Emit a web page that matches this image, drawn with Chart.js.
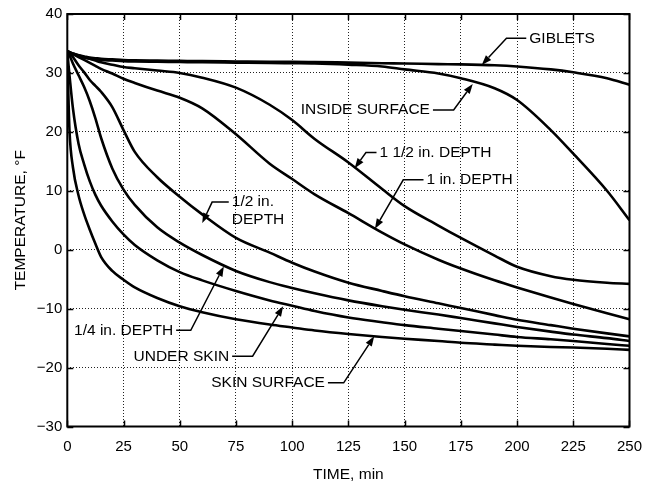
<!DOCTYPE html>
<html><head><meta charset="utf-8">
<script src="https://cdn.jsdelivr.net/npm/chart.js@4/dist/chart.umd.min.js"></script>
<style>html,body{margin:0;padding:0;background:#fff;}</style>
</head><body>
<canvas id="c" width="653" height="484"></canvas>
<script>
// ---- data ----
const times        = [0, 0.5, 1, 2.5, 5, 7.5, 10, 12.5, 15, 20, 25, 30, 40, 50, 60, 75, 90, 100, 110, 125, 140, 150, 165, 175, 190, 200, 215, 225, 240, 250];
const giblets      = [33.7, 33.6, 33.5, 33.3, 33.0, 32.8, 32.6, 32.5, 32.4, 32.3, 32.2, 32.15, 32.1, 32.05, 32.0, 31.95, 31.9, 31.9, 31.85, 31.75, 31.65, 31.6, 31.5, 31.45, 31.3, 31.1, 30.6, 30.1, 29.1, 28.0];
const insideSurf   = [33.7, 33.6, 33.5, 33.2, 32.9, 32.6, 32.4, 32.3, 32.2, 32.1, 32.0, 31.95, 31.9, 31.85, 31.8, 31.75, 31.7, 31.65, 31.6, 31.4, 31.1, 30.6, 29.9, 29.1, 27.4, 25.4, 20.3, 16.3, 10.0, 5.0];
const oneHalfIn    = [33.7, 33.6, 33.5, 33.3, 33.0, 32.7, 32.4, 32.1, 31.8, 31.4, 31.0, 30.8, 30.4, 30.0, 29.2, 27.5, 24.6, 22.0, 18.8, 14.8, 10.3, 7.4, 4.1, 2.0, -1.0, -2.9, -4.5, -5.1, -5.6, -5.8];
const oneIn        = [33.7, 33.6, 33.5, 33.2, 32.7, 32.2, 31.7, 31.2, 30.7, 29.9, 29.0, 28.3, 27.0, 25.8, 24.0, 19.6, 14.6, 12.0, 9.4, 6.2, 2.9, 0.9, -1.7, -3.2, -5.2, -6.4, -8.1, -9.2, -10.8, -11.8];
const halfIn       = [33.7, 33.6, 33.4, 32.7, 31.3, 30.1, 28.8, 27.8, 26.8, 24.2, 20.3, 16.6, 12.3, 9.0, 6.0, 2.0, -0.5, -2.2, -3.7, -5.6, -7.0, -7.9, -9.1, -9.9, -11.1, -11.9, -12.8, -13.4, -14.2, -14.7];
const quarterIn    = [33.7, 33.4, 33.0, 31.6, 29.6, 27.6, 25.2, 22.3, 19.0, 13.8, 10.2, 7.6, 3.8, 1.2, -0.9, -3.6, -5.5, -6.5, -7.4, -8.6, -9.6, -10.2, -11.0, -11.6, -12.5, -13.1, -13.9, -14.4, -15.0, -15.5];
const underSkin    = [33.7, 31.5, 29.5, 24.0, 18.0, 14.5, 11.6, 9.3, 7.5, 4.8, 2.6, 0.8, -1.8, -3.8, -5.2, -7.0, -8.6, -9.5, -10.4, -11.5, -12.3, -12.8, -13.4, -13.8, -14.4, -14.8, -15.2, -15.5, -16.0, -16.3];
const skinSurface  = [33.7, 26.0, 20.0, 14.0, 9.2, 6.0, 3.4, 1.0, -1.2, -3.6, -5.1, -6.4, -8.2, -9.6, -10.6, -11.8, -12.7, -13.2, -13.7, -14.3, -14.8, -15.1, -15.5, -15.8, -16.1, -16.3, -16.5, -16.6, -16.8, -17.0];
const xTickValues  = [0, 25, 50, 75, 100, 125, 150, 175, 200, 225, 250];
const yTickValues  = [-30, -20, -10, 0, 10, 20, 30, 40];
const xTitle = 'TIME, min';
const yTitle = 'TEMPERATURE, °F';

// ---- callout layout (data units) ----
const callouts = [
  {lines:['GIBLETS'],          tip:[184.3, 31.36], elbow:[195.3, 35.88], end:204.1, side:'right'},
  {lines:['INSIDE SURFACE'],   tip:[180.3, 28.14], elbow:[171.8, 23.73], end:162.6, side:'left'},
  {lines:['1 1/2 in. DEPTH'],  tip:[127.8, 13.81], elbow:[132.8, 16.49], end:137.5, side:'right'},
  {lines:['1 in. DEPTH'],      tip:[136.8, 3.56],  elbow:[149.4, 11.86], end:158.4, side:'right'},
  {lines:['1/2 in.', 'DEPTH'], tip:[60.0, 4.53],   elbow:[64.4, 8.08],   end:71.8,  side:'right'},
  {lines:['1/4 in. DEPTH'],    tip:[69.6, -2.83],  elbow:[54.9, -13.68], end:48.4,  side:'left'},
  {lines:['UNDER SKIN'],       tip:[96.0, -9.61],  elbow:[82.4, -18.08], end:73.3,  side:'left'},
  {lines:['SKIN SURFACE'],     tip:[136.5, -14.69],elbow:[122.9, -22.59],end:115.9, side:'left'}
];

const FAMILY = "'Liberation Sans', Arial, sans-serif";
const FONT = "15.5px " + FAMILY;
const series = [giblets, insideSurf, oneHalfIn, oneIn, halfIn, quarterIn, underSkin, skinSurface];
const datasets = series.map(vals => ({
  data: times.map((t, i) => ({x: t, y: vals[i]})),
  borderColor: '#000', borderWidth: 2.6, pointRadius: 0, fill: false,
  cubicInterpolationMode: 'monotone'
}));

const framePlugin = {
  id: 'frame',
  afterDraw(chart) {
    const {ctx, chartArea: a, scales: {x, y}} = chart;
    ctx.save();
    ctx.strokeStyle = '#000';
    ctx.lineWidth = 1.5;
    const L = 6;
    ctx.beginPath();
    xTickValues.forEach(v => {
      const px = Math.round(x.getPixelForValue(v)) + 0.5;
      ctx.moveTo(px, a.bottom); ctx.lineTo(px, a.bottom - L);
      ctx.moveTo(px, a.top); ctx.lineTo(px, a.top + L);
    });
    yTickValues.forEach(v => {
      const py = Math.round(y.getPixelForValue(v)) + 0.5;
      ctx.moveTo(a.left, py); ctx.lineTo(a.left + L, py);
      ctx.moveTo(a.right, py); ctx.lineTo(a.right - L, py);
    });
    ctx.stroke();
    ctx.lineWidth = 2;
    ctx.strokeRect(a.left, a.top, a.right - a.left, a.bottom - a.top);
    ctx.font = FONT;
    ctx.fillStyle = '#000';
    ctx.textBaseline = 'middle';
    callouts.forEach(c => {
      const tx = x.getPixelForValue(c.tip[0]), ty = y.getPixelForValue(c.tip[1]);
      const ex = x.getPixelForValue(c.elbow[0]), ey = y.getPixelForValue(c.elbow[1]);
      const hx = x.getPixelForValue(c.end);
      const ang = Math.atan2(ty - ey, tx - ex);
      const AL = 10, AW = 3.6;
      const bx = tx - AL * Math.cos(ang), by = ty - AL * Math.sin(ang);
      ctx.lineWidth = 1.5;
      ctx.beginPath();
      ctx.moveTo(hx, ey); ctx.lineTo(ex, ey); ctx.lineTo(bx, by);
      ctx.stroke();
      ctx.beginPath();
      ctx.moveTo(tx, ty);
      ctx.lineTo(bx + AW * Math.sin(ang), by - AW * Math.cos(ang));
      ctx.lineTo(bx - AW * Math.sin(ang), by + AW * Math.cos(ang));
      ctx.closePath();
      ctx.fill();
      ctx.textAlign = c.side === 'right' ? 'left' : 'right';
      const xx = c.side === 'right' ? hx + 3 : hx - 3;
      c.lines.forEach((s, i) => ctx.fillText(s, xx, ey + i * 17.5));
    });
    ctx.restore();
  }
};

const fmt = v => v < 0 ? '\u2212' + Math.abs(v) : String(v);

new Chart(document.getElementById('c'), {
  type: 'line',
  data: {datasets},
  plugins: [framePlugin],
  options: {
    responsive: false, devicePixelRatio: 1, animation: false,
    layout: {padding: {left: 0, right: 19, top: 14, bottom: 0}},
    plugins: {legend: {display: false}, tooltip: {enabled: false}},
    scales: {
      x: {
        type: 'linear', min: 0, max: 250,
        afterBuildTicks: s => { s.ticks = xTickValues.map(v => ({value: v})); },
        afterFit: s => { s.height = 57.5; },
        grid: {color: '#222', lineWidth: 1, drawTicks: false},
        border: {display: false, dash: [1, 2]},
        ticks: {color: '#000', font: {family: FAMILY, size: 15}, padding: 11, callback: fmt, maxRotation: 0},
        title: {display: true, text: xTitle, color: '#000', font: {family: FAMILY, size: 15.5}, padding: {top: 0, bottom: 0}}
      },
      y: {
        type: 'linear', min: -30, max: 40,
        afterBuildTicks: s => { s.ticks = yTickValues.map(v => ({value: v})); },
        afterFit: s => { s.width = 67.3; },
        grid: {color: '#222', lineWidth: 1, drawTicks: false},
        border: {display: false, dash: [1, 2]},
        ticks: {color: '#000', font: {family: FAMILY, size: 15}, padding: 5, callback: fmt},
        title: {display: true, text: yTitle, color: '#000', font: {family: FAMILY, size: 15.5}, padding: {top: 11, bottom: 0}}
      }
    }
  }
});
</script>
</body></html>
